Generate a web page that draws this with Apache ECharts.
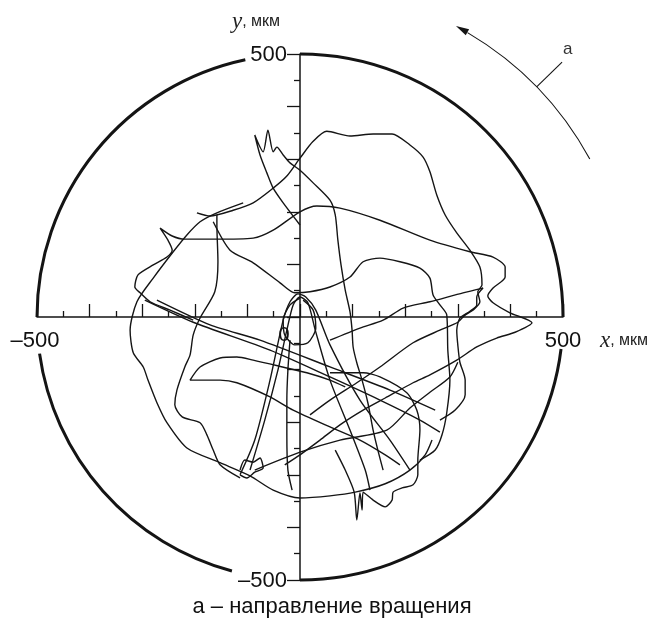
<!DOCTYPE html>
<html>
<head>
<meta charset="utf-8">
<script src="https://cdn.jsdelivr.net/npm/echarts@6/dist/echarts.min.js"></script>
<style>
  html, body { margin: 0; padding: 0; background: #fff; }
  #chart { width: 659px; height: 620px; }
</style>
</head>
<body>
<div id="chart"></div>
<script>
// Shaft-centre orbit, coordinates in µm. Each array is one pass of the trajectory.
const passLeftLobe = [[-108,217],[-158,198],[-190,181],[-215,156],[-241,124],[-279,74],[-310,29],[-323,-25],[-317,-68],[-298,-95],[-289,-120],[-272,-163],[-253,-201],[-215,-249],[-152,-277],[-95,-302],[-51,-329],[0,-344],[57,-340],[105,-333],[162,-317],[209,-291],[238,-262],[251,-234]];
const passFlagRight = [[-203,-6],[-247,13],[-285,29],[-304,46],[-314,57],[-308,80],[-279,99],[-253,114],[-243,127],[-251,146],[-266,169],[-243,154],[-219,148],[-162,148],[-89,150],[-51,165],[0,200],[32,211],[76,207],[152,184],[247,146],[323,124],[367,114],[390,95],[390,76],[367,55],[357,40],[367,27],[399,8],[441,-11],[409,-29],[374,-40],[336,-57],[298,-82],[247,-110],[215,-125],[162,-154],[120,-177],[76,-205],[38,-234],[0,-262],[-29,-281]];
const passTopLoop = [[-196,198],[-171,192],[-127,203],[-89,217],[-51,245],[-25,268],[0,302],[25,334],[51,353],[95,344],[139,348],[175,348],[209,327],[234,304],[247,276],[260,232],[276,194],[298,160],[323,127],[342,95],[346,61],[338,48],[342,29],[331,15],[312,2],[300,-10],[266,-25],[215,-49],[152,-95],[108,-125],[57,-158],[19,-186]];
const passSpikes = [[0,175],[-32,217],[-51,245],[-63,274],[-76,308],[-86,346],[-70,314],[-61,355],[-51,314],[-44,323],[-32,308],[-19,293],[0,279],[25,255],[57,222],[67,194],[72,146],[78,99],[86,51],[95,10],[99,-25],[101,-57],[108,-87],[118,-120],[129,-163],[139,-215],[148,-253],[158,-291]];
const passRightLoop = [[-165,181],[-133,127],[-89,103],[-38,65],[-10,46],[19,48],[57,57],[95,76],[120,105],[152,112],[190,105],[228,93],[247,74],[253,42],[266,23],[279,4],[281,-63],[285,-120],[279,-182],[270,-224],[257,-253],[228,-272]];
const passHook = [[57,-44],[114,-21],[158,-6],[196,17],[247,29],[310,46],[348,55],[336,38],[336,23],[323,11],[304,-2],[298,-25],[300,-53],[304,-86],[314,-120],[314,-148],[295,-177],[266,-196]];
const passDiagonal1 = [[-295,32],[-203,-10],[-57,-63],[57,-114],[152,-158],[228,-196],[266,-219]];
const passDiagonal2 = [[-272,32],[-171,-15],[-76,-44],[57,-95],[171,-139],[257,-177]];
const passLowerArc = [[86,-133],[57,-120],[13,-106],[-25,-97],[-89,-82],[-120,-76],[-152,-78],[-190,-95],[-209,-120],[-152,-120],[-120,-125],[-57,-152],[-13,-177],[57,-209],[114,-234],[162,-262],[190,-281]];
const passBottomRight = [[57,-106],[120,-106],[152,-114],[203,-144],[222,-177],[228,-215],[224,-272],[224,-300],[215,-319],[194,-325],[177,-333],[175,-348],[162,-361],[139,-348],[120,-333],[118,-367],[114,-334],[108,-386],[103,-333],[86,-291],[67,-253]];
const passLeftDown = [[-158,194],[-158,175],[-156,105],[-162,48],[-190,-2],[-203,-34],[-209,-72],[-219,-95],[-234,-139],[-238,-167],[-224,-190],[-190,-201],[-177,-224],[-165,-253],[-152,-281],[-114,-306]];
const passCentre1 = [[-95,-291],[-67,-196],[-42,-101],[-25,-25],[-13,23],[0,38],[15,27],[29,-25],[57,-120],[95,-215],[124,-291],[133,-329]];
const passCentre2 = [[-114,-300],[-86,-234],[-57,-120],[-32,-6],[-19,29],[-4,44],[11,38],[30,13],[57,-53],[114,-158],[171,-234],[209,-291]];
const passOriginLoop = [[0,36],[-19,23],[-32,-6],[-29,-34],[-10,-53],[15,-49],[30,-21],[25,13],[6,32]];
const passVertical = [[-19,-44],[-23,-101],[-25,-158],[-25,-224],[-23,-291],[-15,-329]];
const passRising = [[-86,-291],[0,-257],[76,-234],[165,-215],[209,-173],[247,-143],[285,-114],[300,-86]];
const passKnot = [[-114,-291],[-105,-272],[-89,-276],[-76,-268],[-70,-287],[-86,-295],[-101,-306],[-114,-300]];

const orbitPasses = [passLeftLobe, passFlagRight, passTopLoop, passSpikes, passRightLoop, passHook,
  passDiagonal1, passDiagonal2, passLowerArc, passBottomRight, passLeftDown, passCentre1,
  passCentre2, passOriginLoop, passVertical, passRising, passKnot];

// Axes
const AXIS_MIN = -500, AXIS_MAX = 500, TICK_STEP = 100;
const RING_RADIUS = 500;
const xEndTicks = [-500, 500];
const yEndTicks = [500, -500];
const endLabel = v => (v < 0 ? '–' : '') + Math.abs(v);
const xName = ['x', ', мкм'];
const yName = ['y', ', мкм'];
const originLabel = '0';
const rotationMark = 'а';
const captionText = 'а – направление вращения';

const INK = '#141414';
const SANS = '"Liberation Sans", Arial, sans-serif';
const SERIF = '"Liberation Serif", "Times New Roman", serif';

function renderRing(params, api) {
  const c = api.coord([0, 0]);
  const r = api.size([RING_RADIUS, 0])[0];
  const rad = d => d * Math.PI / 180;
  const children = [];
  // Ring pieces (degrees, counter-clockwise from +x), left open around the end labels
  [[0, 90], [102, 180], [188, 255], [270, 353]].forEach(([a, b]) => {
    children.push({
      type: 'arc',
      shape: { cx: c[0], cy: c[1], r: r, startAngle: -rad(b), endAngle: -rad(a), clockwise: true },
      style: { stroke: INK, lineWidth: 3, fill: null }
    });
  });
  // End labels of both axes
  xEndTicks.forEach(v => {
    const p = api.coord([v, 0]);
    children.push({ type: 'text', x: p[0] - (v < 0 ? 2 : 0), y: p[1] + 24,
      style: { text: endLabel(v), font: '22px ' + SANS, fill: '#111', align: 'center', verticalAlign: 'middle' } });
  });
  yEndTicks.forEach(v => {
    const p = api.coord([0, v]);
    children.push({ type: 'text', x: p[0] - 13, y: p[1] + 1,
      style: { text: endLabel(v), font: '22px ' + SANS, fill: '#111', align: 'right', verticalAlign: 'middle' } });
  });
  // Rotation direction arrow outside the ring
  const ra = r * 1.255;
  children.push({
    type: 'arc',
    shape: { cx: c[0], cy: c[1], r: ra, startAngle: -rad(59.5), endAngle: -rad(28.6), clockwise: true },
    style: { stroke: INK, lineWidth: 1.1, fill: null }
  });
  const t = rad(61.8);
  const tip = [c[0] + ra * Math.cos(t), c[1] - ra * Math.sin(t)];
  const dir = [-Math.sin(t), -Math.cos(t)];
  const nrm = [dir[1], -dir[0]];
  const base = [tip[0] - 13 * dir[0], tip[1] - 13 * dir[1]];
  children.push({
    type: 'polygon',
    shape: { points: [tip, [base[0] + 3.5 * nrm[0], base[1] + 3.5 * nrm[1]], [base[0] - 3.5 * nrm[0], base[1] - 3.5 * nrm[1]]] },
    style: { fill: INK }
  });
  const lt = rad(44.2);
  children.push({
    type: 'line',
    shape: { x1: c[0] + ra * Math.cos(lt), y1: c[1] - ra * Math.sin(lt), x2: c[0] + r * 1.39 * Math.cos(lt), y2: c[1] - r * 1.39 * Math.sin(lt) },
    style: { stroke: INK, lineWidth: 1.1 }
  });
  const mt = rad(45);
  children.push({
    type: 'text',
    x: c[0] + r * 1.44 * Math.cos(mt), y: c[1] - r * 1.44 * Math.sin(mt),
    style: { text: rotationMark, fill: '#333', font: '17px ' + SANS, align: 'center', verticalAlign: 'middle' }
  });
  return { type: 'group', children: children };
}

function axisCommon(insideTicks) {
  return {
    type: 'value', min: AXIS_MIN, max: AXIS_MAX, interval: TICK_STEP,
    axisLine: { onZero: true, lineStyle: { color: INK, width: 1.5 } },
    axisTick: { inside: insideTicks, length: 13, lineStyle: { color: INK, width: 1.3 } },
    minorTick: { show: true, splitNumber: 2, length: 6, lineStyle: { color: INK, width: 1.3 } },
    splitLine: { show: false },
    minorSplitLine: { show: false },
    axisLabel: { show: false }
  };
}

const chart = echarts.init(document.getElementById('chart'), null, { renderer: 'canvas' });
chart.setOption({
  animation: false,
  backgroundColor: '#fff',
  grid: { left: 37, top: 54, width: 526, height: 526, containLabel: false, outerBoundsMode: 'none' },
  xAxis: axisCommon(true),
  yAxis: axisCommon(false),
  series: orbitPasses.map(d => ({
    type: 'line', data: d, showSymbol: false, smooth: 0.25, silent: true, z: 3,
    lineStyle: { color: '#151515', width: 1.4 }
  })).concat([{
    type: 'custom', renderItem: renderRing, data: [0], silent: true, z: 4, clip: false
  }]),
  graphic: [
    {
      type: 'text', x: 232, y: 22,
      style: {
        text: '{i|' + yName[0] + '}{s|' + yName[1] + '}', verticalAlign: 'middle', align: 'left',
        rich: { i: { fontFamily: SERIF, fontStyle: 'italic', fontSize: 23, fill: '#222' }, s: { fontFamily: SANS, fontSize: 16, fill: '#222' } }
      }
    },
    {
      type: 'text', x: 600, y: 341,
      style: {
        text: '{i|' + xName[0] + '}{s|' + xName[1] + '}', verticalAlign: 'middle', align: 'left',
        rich: { i: { fontFamily: SERIF, fontStyle: 'italic', fontSize: 23, fill: '#222' }, s: { fontFamily: SANS, fontSize: 16, fill: '#222' } }
      }
    },
    {
      type: 'text', x: 284, y: 335,
      style: { text: originLabel, font: '20px ' + SANS, fill: '#111', align: 'center', verticalAlign: 'middle' }
    },
    {
      type: 'text', x: 332, y: 607,
      style: { text: captionText, font: '22px ' + SANS, fill: '#111', align: 'center', verticalAlign: 'middle' }
    }
  ]
});
</script>
</body>
</html>
